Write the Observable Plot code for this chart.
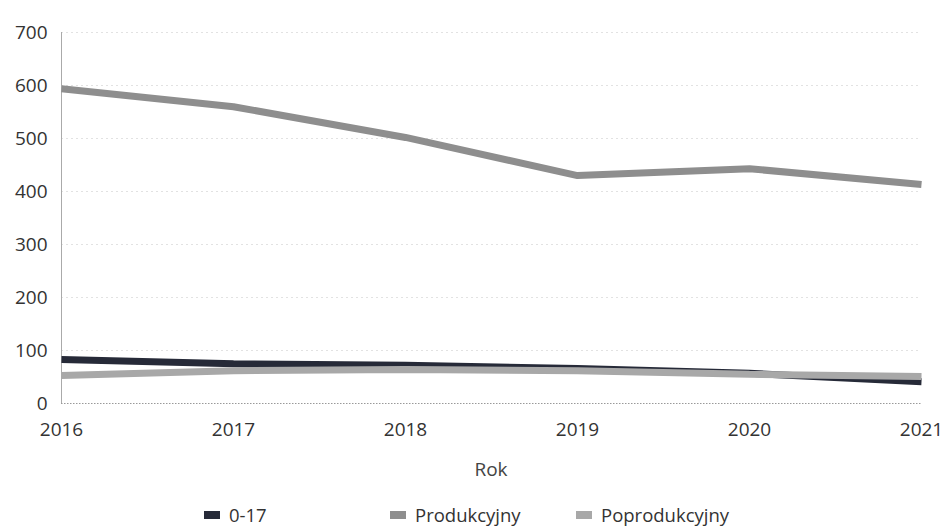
<!DOCTYPE html>
<html><head><meta charset="utf-8">
<script src="https://cdn.jsdelivr.net/npm/d3@7"></script>
<script src="https://cdn.jsdelivr.net/npm/@observablehq/plot@0.6"></script>
<style>
body{margin:0;background:#fff;font-family:"Open Sans",sans-serif;color:#333;}
#wrap{position:relative;width:943px;height:526px;overflow:hidden;}
#xlabel{position:absolute;left:61px;width:860px;top:457px;text-align:center;font-size:19px;line-height:24px;color:#444;}
#legend{position:absolute;left:204px;top:505px;display:flex;font-size:18.5px;line-height:20px;color:#333;}
.item{display:flex;align-items:center;width:186px;}
.sw{width:16px;height:8px;margin-right:9px;}
</style></head>
<body><div id="wrap"><div id="chart"></div><div id="xlabel">Rok</div><div id="legend"></div></div>
<script>
const years = [2016, 2017, 2018, 2019, 2020, 2021];
const series = ["0-17", "Produkcyjny", "Poprodukcyjny"];
const v017 = [83, 75, 72, 66, 57, 41];
const vProd = [594, 560, 502, 430, 443, 413];
const vPoprod = [53, 62, 64, 62, 55, 51];
const yTicks = [0, 100, 200, 300, 400, 500, 600, 700];
const colors = ["#262a38", "#8e8e8e", "#a8a8a8"];

const vals = [v017, vProd, vPoprod];
const data = [];
series.forEach((s, i) => years.forEach((y, j) => data.push({year: y, value: vals[i][j], series: s})));

const chart = Plot.plot({
  width: 943, height: 445,
  marginLeft: 61, marginRight: 22, marginTop: 32, marginBottom: 42,
  style: {fontFamily: "Open Sans", fontSize: "19px", color: "#333", background: "#fff"},
  x: {domain: [2016, 2021], ticks: years, tickFormat: d => String(d), label: null},
  y: {domain: [0, 700], ticks: yTicks, label: null},
  color: {domain: series, range: colors},
  marks: [
    Plot.gridY(yTicks.filter(d => d > 0), {stroke: "#cfcfcf", strokeOpacity: 0.6, strokeDasharray: "2,3"}),
    Plot.ruleY([0], {stroke: "#999", strokeDasharray: "1.5,1.5"}),
    Plot.ruleX([2016], {stroke: "#aaa", strokeWidth: 1}),
    Plot.axisX({ticks: years, tickSize: 0, tickPadding: 19, tickFormat: d => String(d), label: null}),
    Plot.axisY({ticks: yTicks, tickSize: 0, tickPadding: 14, label: null}),
    Plot.line(data, {x: "year", y: "value", z: "series", stroke: "series", strokeWidth: 7, strokeLinejoin: "miter", strokeLinecap: "butt"})
  ]
});
document.getElementById("chart").appendChild(chart);

const lg = document.getElementById("legend");
series.forEach((s, i) => {
  const it = document.createElement("div"); it.className = "item";
  const sw = document.createElement("span"); sw.className = "sw"; sw.style.background = colors[i];
  const t = document.createElement("span"); t.textContent = s;
  it.appendChild(sw); it.appendChild(t); lg.appendChild(it);
});
</script></body></html>
